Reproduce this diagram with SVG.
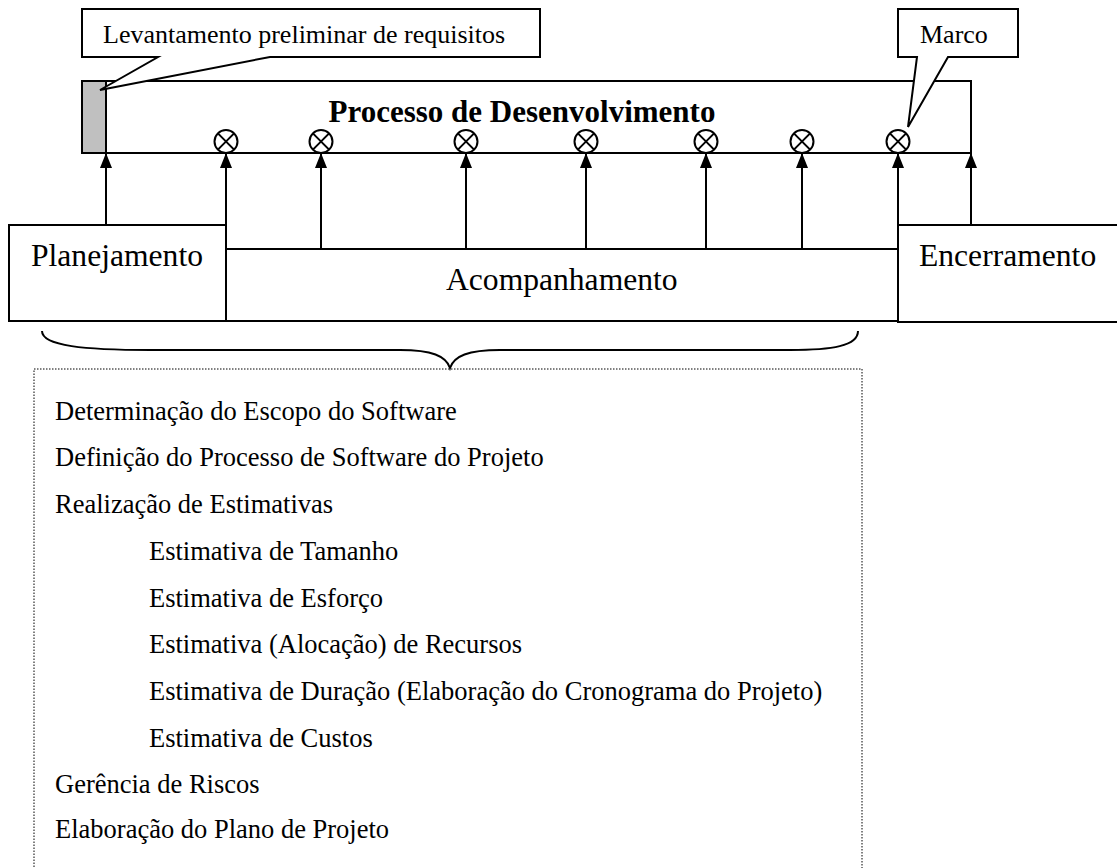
<svg xmlns="http://www.w3.org/2000/svg" width="1117" height="868" viewBox="0 0 1117 868">
  <defs>
    <style>
      .box { fill: #ffffff; stroke: #000000; stroke-width: 2; }
      .line { fill: none; stroke: #000000; stroke-width: 2; }
      .t { font-family: "Liberation Serif", "Times New Roman", serif; fill: #000000; }
      .big { font-size: 31.6px; }
      .call { font-size: 26px; }
      .list { font-size: 26.5px; }
      .ms { fill: #ffffff; stroke: #000000; stroke-width: 2; }
    </style>
    <marker id="arr" viewBox="0 0 15 12" refX="15" refY="6" markerWidth="15" markerHeight="12" markerUnits="userSpaceOnUse" orient="auto">
      <path d="M0,0 L15,6 L0,12 Z" fill="#000000"/>
    </marker>
    <g id="milestone">
      <circle cx="0" cy="0" r="11.5" class="ms"/>
      <line x1="-8.1" y1="-8.1" x2="8.1" y2="8.1" stroke="#000" stroke-width="2"/>
      <line x1="-8.1" y1="8.1" x2="8.1" y2="-8.1" stroke="#000" stroke-width="2"/>
    </g>
  </defs>
  <rect width="1117" height="868" fill="#ffffff"/>

  <!-- Process bar -->
  <g id="processo">
    <rect x="82" y="81" width="889" height="72" class="box"/>
    <rect x="82" y="81" width="24" height="72" fill="#c0c0c0" stroke="#000" stroke-width="2"/>
    <text x="522" y="122" text-anchor="middle" class="t" font-size="31" font-weight="bold">Processo de Desenvolvimento</text>
  </g>

  <!-- Milestones -->
  <g id="marcos">
    <use href="#milestone" x="226" y="141.5"/>
    <use href="#milestone" x="321" y="141.5"/>
    <use href="#milestone" x="466" y="141.5"/>
    <use href="#milestone" x="586" y="141.5"/>
    <use href="#milestone" x="706" y="141.5"/>
    <use href="#milestone" x="802" y="141.5"/>
    <use href="#milestone" x="898" y="141.5"/>
  </g>

  <!-- Callouts -->
  <g id="callout-levantamento">
    <path d="M82,9 L540,9 L540,57 L270,57 L100,90 L158,57 L82,57 Z" class="box"/>
    <text x="103" y="43" class="t call">Levantamento preliminar de requisitos</text>
  </g>
  <g id="callout-marco">
    <path d="M898,9 L1018,9 L1018,57 L948,57 L908,127 L917,57 L898,57 Z" class="box"/>
    <text x="920" y="43" class="t call">Marco</text>
  </g>

  <!-- Phase boxes -->
  <g id="planejamento">
    <rect x="9" y="225" width="217" height="96" class="box"/>
    <text x="31" y="266" class="t big">Planejamento</text>
  </g>
  <g id="acompanhamento">
    <rect x="226" y="249" width="672" height="72" class="box"/>
    <text x="446" y="290" class="t big">Acompanhamento</text>
  </g>
  <g id="encerramento">
    <rect x="898" y="225" width="225" height="97" class="box"/>
    <text x="919" y="266" class="t big">Encerramento</text>
  </g>

  <!-- Connectors -->
  <g id="connectors">
    <line x1="106" y1="225" x2="106" y2="153" class="line" marker-end="url(#arr)"/>
    <line x1="226" y1="249" x2="226" y2="153" class="line" marker-end="url(#arr)"/>
    <line x1="321" y1="249" x2="321" y2="153" class="line" marker-end="url(#arr)"/>
    <line x1="466" y1="249" x2="466" y2="153" class="line" marker-end="url(#arr)"/>
    <line x1="586" y1="249" x2="586" y2="153" class="line" marker-end="url(#arr)"/>
    <line x1="706" y1="249" x2="706" y2="153" class="line" marker-end="url(#arr)"/>
    <line x1="802" y1="249" x2="802" y2="153" class="line" marker-end="url(#arr)"/>
    <line x1="898" y1="225" x2="898" y2="153" class="line" marker-end="url(#arr)"/>
    <line x1="971" y1="225" x2="971" y2="153" class="line" marker-end="url(#arr)"/>
  </g>

  <!-- Brace -->
  <g id="chave">
    <path d="M42,331 C42,346 85,350 150,350 L400,350 C432,350 446,356 450,368 C454,356 468,350 500,350 L790,350 C832,350 858,346 858,331" class="line"/>
  </g>

  <!-- Activity list -->
  <g id="atividades">
    <rect x="34" y="369" width="828" height="510" fill="none" stroke="#000" stroke-width="1" stroke-dasharray="1.5 1.5"/>
    <text x="55" y="420" class="t list">Determinação do Escopo do Software</text>
    <text x="55" y="466" class="t list">Definição do Processo de Software do Projeto</text>
    <text x="55" y="513" class="t list">Realização de Estimativas</text>
    <text x="149" y="560" class="t list">Estimativa de Tamanho</text>
    <text x="149" y="607" class="t list">Estimativa de Esforço</text>
    <text x="149" y="653" class="t list">Estimativa (Alocação) de Recursos</text>
    <text x="149" y="700" class="t list">Estimativa de Duração (Elaboração do Cronograma do Projeto)</text>
    <text x="149" y="747" class="t list">Estimativa de Custos</text>
    <text x="55" y="793" class="t list">Gerência de Riscos</text>
    <text x="55" y="838" class="t list">Elaboração do Plano de Projeto</text>
  </g>
</svg>
